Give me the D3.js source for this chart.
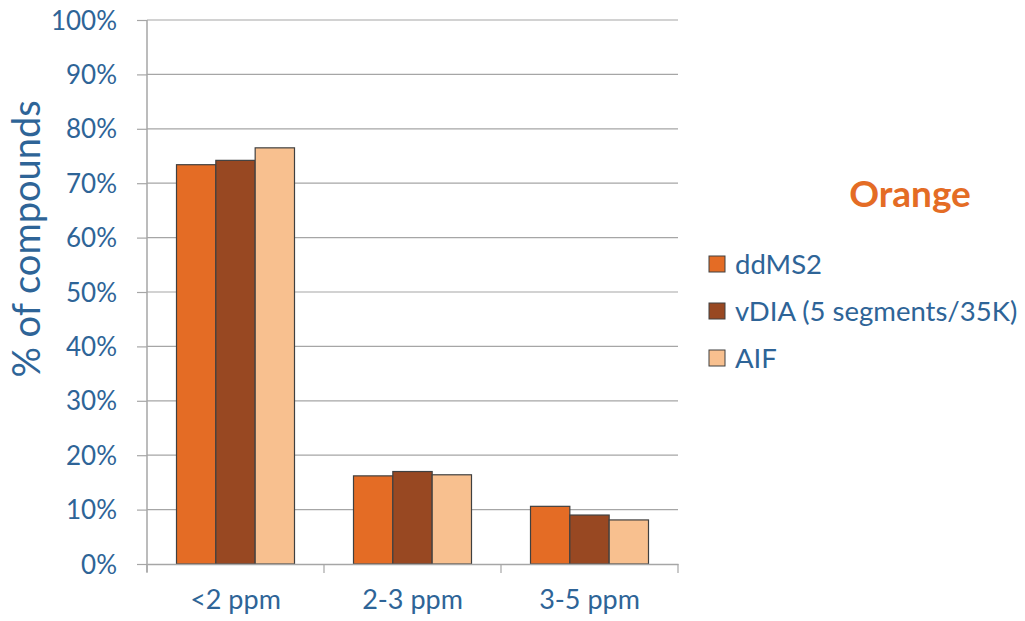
<!DOCTYPE html>
<html>
<head>
<meta charset="utf-8">
<script src="https://cdn.jsdelivr.net/npm/d3@7"></script>
<style>
  body { margin: 0; background: #fff; }
  svg { display: block; font-family: Lato, "Open Sans", sans-serif; }
  svg text { font-family: Lato, "Open Sans", sans-serif; }
</style>
</head>
<body>
<svg id="chart" width="1025" height="621"></svg>
<script>
// Mass accuracy distribution of identified compounds
const categories = ["<2 ppm", "2-3 ppm", "3-5 ppm"];
const seriesNames = ["ddMS2", "vDIA (5 segments/35K)", "AIF"];
const ddMS2 = [73.4, 16.2, 10.6];
const vDIA = [74.2, 17.0, 9.0];
const AIF = [76.5, 16.4, 8.1];
const yTicks = [0, 10, 20, 30, 40, 50, 60, 70, 80, 90, 100];
const colors = ["#E46C25", "#984822", "#F8C08F"];
const title = "Orange";

const series = [ddMS2, vDIA, AIF];
const svg = d3.select("#chart");
const textColor = "#2E6497";

const plotLeft = 147, plotRight = 678, plotTop = 20, plotBottom = 564;

const x = d3.scaleBand().domain(categories).range([plotLeft, plotRight]).paddingInner(0).paddingOuter(0);
const xi = d3.scaleBand().domain(seriesNames).range([0, x.bandwidth()]).paddingOuter(0.75).paddingInner(0);
const y = d3.scaleLinear().domain([0, 100]).range([plotBottom, plotTop]);

// horizontal gridlines
svg.append("g")
  .selectAll("line")
  .data(yTicks.filter(d => d > 0))
  .join("line")
  .attr("x1", plotLeft).attr("x2", plotRight)
  .attr("y1", d => y(d)).attr("y2", d => y(d))
  .attr("stroke", "#A6A6A6").attr("stroke-width", 1.2);

// y axis
const yAxis = svg.append("g")
  .attr("transform", `translate(${plotLeft},0)`)
  .call(d3.axisLeft(y).tickValues(yTicks).tickFormat(d => d + "%").tickSize(10).tickPadding(20));
yAxis.attr("font-family", null).attr("font-size", null);
yAxis.select(".domain").attr("stroke", "#A6A6A6").attr("stroke-width", 1.5).attr("d", `M-0,${plotTop}V${plotBottom + 8}`);
yAxis.selectAll(".tick line").attr("stroke", "#A6A6A6").attr("stroke-width", 1.2);
yAxis.selectAll(".tick text").attr("fill", textColor).attr("font-size", 26).attr("dy", "0.35em");

// bars
const groups = svg.append("g")
  .selectAll("g")
  .data(series)
  .join("g")
  .attr("fill", (d, i) => colors[i]);
groups.selectAll("rect")
  .data((vals, si) => vals.map((v, ci) => ({ v, ci, si })))
  .join("rect")
  .attr("x", d => x(categories[d.ci]) + xi(seriesNames[d.si]))
  .attr("width", xi.bandwidth())
  .attr("y", d => y(d.v))
  .attr("height", d => y(0) - y(d.v))
  .attr("stroke", "#404040")
  .attr("stroke-width", 1.2);

// x axis
const xAxis = svg.append("g")
  .attr("transform", `translate(0,${plotBottom})`)
  .call(d3.axisBottom(x).tickSize(0).tickPadding(26));
xAxis.attr("font-family", null).attr("font-size", null);
xAxis.select(".domain").attr("stroke", "#A6A6A6").attr("stroke-width", 1.5);
xAxis.selectAll(".tick text").attr("fill", textColor).attr("font-size", 27);
svg.append("g")
  .selectAll("line")
  .data(d3.range(categories.length + 1))
  .join("line")
  .attr("x1", i => plotLeft + i * x.step()).attr("x2", i => plotLeft + i * x.step())
  .attr("y1", plotBottom).attr("y2", plotBottom + 9)
  .attr("stroke", "#A6A6A6").attr("stroke-width", 1.2);

// y axis title
svg.append("text")
  .attr("transform", "translate(40,239) rotate(-90)")
  .attr("text-anchor", "middle")
  .attr("fill", textColor)
  .attr("font-size", 38)
  .text("% of compounds");

// chart title
svg.append("text")
  .attr("x", 910).attr("y", 207)
  .attr("text-anchor", "middle")
  .attr("fill", "#E46C25")
  .attr("font-weight", "bold")
  .attr("font-size", 37)
  .text(title);

// legend
const legend = svg.append("g")
  .selectAll("g")
  .data(seriesNames)
  .join("g")
  .attr("transform", (d, i) => `translate(709,${264 + i * 47})`);
legend.append("rect")
  .attr("x", 0).attr("y", -8).attr("width", 16).attr("height", 16)
  .attr("fill", (d, i) => colors[i])
  .attr("stroke", "#404040").attr("stroke-width", 1);
legend.append("text")
  .attr("x", 26).attr("y", 0).attr("dy", "0.35em")
  .attr("fill", textColor)
  .attr("font-size", 27.5)
  .text(d => d);
</script>
</body>
</html>
